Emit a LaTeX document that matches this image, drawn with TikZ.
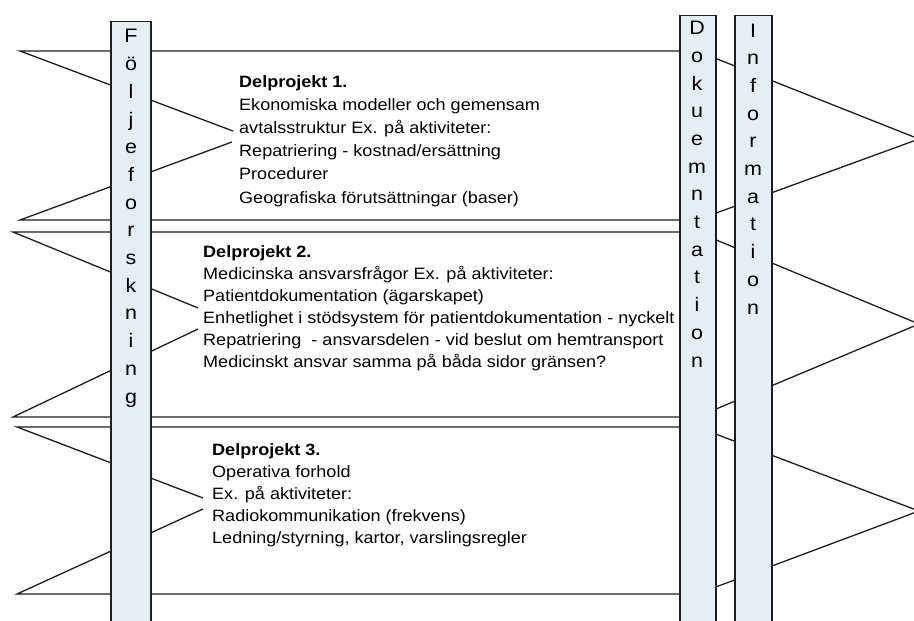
\documentclass[tikz,border=0pt]{standalone}
\usepackage{fontspec}
\setmainfont[FakeStretch=1.1]{Liberation Sans}
\usetikzlibrary{positioning}
\definecolor{barblue}{HTML}{E4EFF1}
\definecolor{inkgray}{HTML}{1E1E1E}

\begin{document}
\begin{tikzpicture}[x=1pt, y=-1pt,
  band/.style={draw=inkgray, line width=1.3pt, line join=miter},
  bar/.style={rectangle, draw=inkgray, line width=1.3pt, fill=barblue, anchor=north, minimum height=620pt, minimum width=#1},
  letters/.style={align=center, anchor=base, inner sep=0pt, font=\fontsize{19.5}{27.7}\selectfont},
  desc/.style={align=left, anchor=base west, inner sep=0pt, font=\fontsize{16.4}{22}\selectfont}
]
  \useasboundingbox (0,0) rectangle (914,621);
  \clip (0,0) rectangle (914,621);
  \fill[white] (0,0) rectangle (914,621);

  % Delprojekt bands (notched tail, pointed head)
  \draw[band] (233,131) -- (20,51) -- (697,51) -- (919,139) -- (697,220) -- (20,220) -- (232,142);
  \draw[band] (198,308) -- (13,232) -- (697,232) -- (919,324) -- (697,417) -- (13,417) -- (198,329);
  \draw[band] (203,498) -- (17,427) -- (697,427) -- (919,511) -- (697,594) -- (17,594) -- (203,509);

  % Texts (anchored at the baseline of the last line)
  \node[desc, font=\fontsize{16.4}{23.2}\selectfont] (dp1) at (239,203) {\textbf{Delprojekt 1.}\\
    Ekonomiska modeller och gemensam\\
    avtalsstruktur Ex. på aktiviteter:\\
    Repatriering - kostnad/ersättning\\
    Procedurer\\
    Geografiska förutsättningar (baser)};
  \node[desc] (dp2) at (203,367) {\textbf{Delprojekt 2.}\\
    Medicinska ansvarsfrågor Ex. på aktiviteter:\\
    Patientdokumentation (ägarskapet)\\
    Enhetlighet i stödsystem för patientdokumentation - nyckelt\\
    Repatriering\ \ - ansvarsdelen - vid beslut om hemtransport\\
    Medicinskt ansvar samma på båda sidor gränsen?};
  \node[desc] (dp3) at (212,543) {\textbf{Delprojekt 3.}\\
    Operativa forhold\\
    Ex. på aktiviteter:\\
    Radiokommunikation (frekvens)\\
    Ledning/styrning, kartor, varslingsregler};

  % Vertical bars
  \node[bar=40pt] (folj) at (131,21) {};
  \node[bar=36pt] (dok) at (698,15) {};
  \node[bar=37pt] (info) at (753.5,15) {};

  \node[letters] (foljtxt) at (131,403) {F\\ö\\l\\j\\e\\f\\o\\r\\s\\k\\n\\i\\n\\g};
  \node[letters] (doktxt) at (697,367) {D\\o\\k\\u\\e\\m\\n\\t\\a\\t\\i\\o\\n};
  \node[letters] (infotxt) at (753,314) {I\\n\\f\\o\\r\\m\\a\\t\\i\\o\\n};
\end{tikzpicture}
\end{document}
